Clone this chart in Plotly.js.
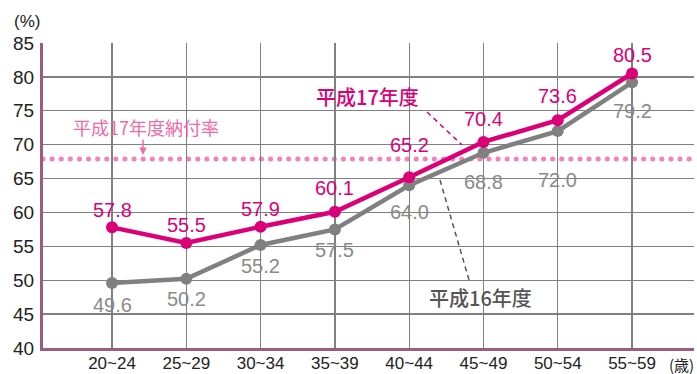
<!DOCTYPE html>
<html>
<head>
<meta charset="utf-8">
<script src="https://cdn.plot.ly/plotly-3.0.1.min.js"></script>
<style>html,body{margin:0;padding:0;background:#fff;}#chart{width:697px;height:374px;}</style>
</head>
<body>
<div id="chart"></div>
<script>
// ---- data ----
const ageGroups = ["20~24", "25~29", "30~34", "35~39", "40~44", "45~49", "50~54", "55~59"];
const rateH17 = [57.8, 55.5, 57.9, 60.1, 65.2, 70.4, 73.6, 80.5];
const rateH16 = [49.6, 50.2, 55.2, 57.5, 64.0, 68.8, 72.0, 79.2];
const paymentRateH17 = 67.9;
const yTicks = [40, 45, 50, 55, 60, 65, 70, 75, 80, 85];

// ---- styling / label placement ----
const PINK = "#dc0078";
const GRAY = "#808080";
const shiftH17 = [17, 18, 18, 24, 32, 23, 24, 19];
const shiftH16 = [-22, -20, -21, -21, -27, -29, -49, -29];
const FONT = "Liberation Sans, Arial, Noto Sans CJK JP, sans-serif";
const JFONT = "Noto Sans CJK JP, sans-serif";

const traces = [
  {x: ageGroups, y: rateH16, type: "scatter", mode: "lines+markers",
   line: {color: GRAY, width: 4.5}, marker: {color: GRAY, size: 12}, hoverinfo: "skip"},
  {x: ageGroups, y: rateH17, type: "scatter", mode: "lines+markers",
   line: {color: PINK, width: 4.5}, marker: {color: PINK, size: 12}, hoverinfo: "skip"}
];

const annotations = [];
ageGroups.forEach((c, i) => {
  annotations.push({x: c, y: rateH17[i], xref: "x", yref: "y", text: rateH17[i].toFixed(1),
    showarrow: false, yshift: shiftH17[i], xanchor: "center", yanchor: "middle",
    font: {family: FONT, size: 20, color: PINK}});
  annotations.push({x: c, y: rateH16[i], xref: "x", yref: "y", text: rateH16[i].toFixed(1),
    showarrow: false, yshift: shiftH16[i], xanchor: "center", yanchor: "middle",
    font: {family: FONT, size: 20, color: "#8a8a8a"}});
});
const P = (o) => Object.assign({xref: "paper", yref: "paper", xanchor: "center", yanchor: "middle", showarrow: false}, o);
annotations.push(
  P({x: -0.0246, y: 1.072, text: "(%)", font: {family: FONT, size: 17, color: "#222"}}),
  P({x: 0.981, y: -0.053, text: "(歳)", font: {family: JFONT, size: 15, color: "#222"}}),
  P({x: 0.158, y: 0.723, text: "平成17年度納付率", font: {family: JFONT, size: 18, color: "#f06aa8"}}),
  P({x: 0.1536, y: 0.633, text: "", showarrow: true,
     ax: 0, ay: -17, arrowhead: 2, arrowsize: 1, arrowwidth: 1.5, arrowcolor: "#f06aa8"}),
  P({x: 0.4977, y: 0.823, text: "平成17年度", font: {family: JFONT, size: 20, weight: 500, color: PINK}}),
  P({x: 0.6713, y: 0.1656, text: "平成16年度", font: {family: JFONT, size: 20, weight: 500, color: "#555"}})
);

const shapes = [
  {type: "line", xref: "paper", yref: "y", x0: 0, x1: 1, y0: paymentRateH17, y1: paymentRateH17,
   line: {color: "#f481b8", width: 5, dash: "0.1px,9px"}, layer: "below"},
  {type: "line", xref: "paper", yref: "paper", x0: 0.5899, y0: 0.7738, x1: 0.6436, y1: 0.6656,
   line: {color: PINK, width: 1.5, dash: "5px,4px"}},
  {type: "line", xref: "paper", yref: "paper", x0: 0.6098, y0: 0.5508, x1: 0.6544, y1: 0.2230,
   line: {color: "#555", width: 1.5, dash: "5px,4px"}}
];

const layout = {
  width: 697, height: 374,
  margin: {l: 43, r: 3, t: 43, b: 26},
  paper_bgcolor: "#fff", plot_bgcolor: "#fff",
  showlegend: false,
  xaxis: {type: "category", range: [-0.929, 7.834], showgrid: true, gridcolor: "#808080", gridwidth: 1.3,
    showline: true, linecolor: "#9b5c7e", linewidth: 3, ticks: "", zeroline: false,
    tickfont: {family: FONT, size: 17, color: "#222"}, ticklabelstandoff: -2, fixedrange: true},
  yaxis: {range: [40, 85], tickvals: yTicks, showgrid: true, gridcolor: "#808080", gridwidth: 1.3,
    showline: true, linecolor: "#9b5c7e", linewidth: 3, ticks: "", zeroline: false,
    tickfont: {family: FONT, size: 19, color: "#222"}, ticklabelstandoff: 2, fixedrange: true},
  annotations: annotations,
  shapes: shapes
};

Plotly.newPlot("chart", traces, layout, {staticPlot: true, displayModeBar: false}).then(() => {
  document.querySelectorAll(".shapelayer path").forEach(p => {
    if ((p.style.strokeDasharray || "").indexOf("0.1") === 0) p.style.strokeLinecap = "round";
  });
});
</script>
</body>
</html>
